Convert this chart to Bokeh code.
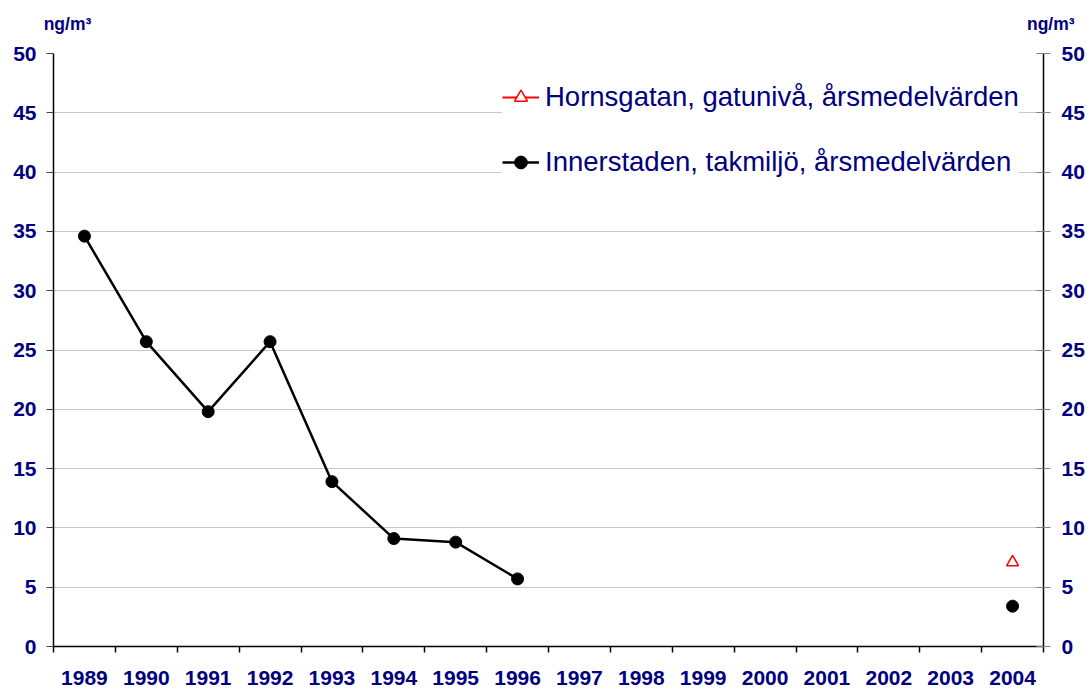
import math
from bokeh.plotting import figure
from bokeh.models import (Range1d, LinearAxis, FixedTicker, Legend, LegendItem,
                          ColumnDataSource)
from bokeh.embed import file_html
from bokeh.resources import INLINE

# ---------------- data ----------------
years = list(range(1989, 2005))
innerstaden = [34.6, 25.7, 19.8, 25.7, 13.9, 9.1, 8.8, 5.7,
               None, None, None, None, None, None, None, 3.4]
hornsgatan = [None, None, None, None, None, None, None, None,
              None, None, None, None, None, None, None, 7.1]
y_ticks = [0, 5, 10, 15, 20, 25, 30, 35, 40, 45, 50]
series_names = ["Hornsgatan, gatunivå, årsmedelvärden",
                "Innerstaden, takmiljö, årsmedelvärden"]
unit_label = "ng/m³"

# ---------------- helpers ----------------
nan = float("nan")


def clean(v):
    return [nan if x is None else x for x in v]


FONT = "Liberation Sans"
NAVY = "#000080"
TICK_FS = "21px"
FRAME_L, FRAME_R = 53, 1044   # frame edges in page pixels

src = ColumnDataSource(dict(year=years, inner=clean(innerstaden), horn=clean(hornsgatan)))

p = figure(width=1087, height=688, output_backend="svg", toolbar_location=None,
           x_range=Range1d(years[0] - 0.5, years[-1] + 0.5),
           y_range=Range1d(y_ticks[0], y_ticks[-1]),
           min_border_left=FRAME_L, min_border_right=1087 - FRAME_R,
           min_border_top=53, min_border_bottom=42)
p.outline_line_color = None
p.background_fill_color = "white"
p.border_fill_color = "white"
p.xgrid.visible = False
p.ygrid.ticker = FixedTicker(ticks=y_ticks)
p.ygrid.grid_line_color = "#c8c8c8"
p.ygrid.grid_line_width = 1

# bottom axis: labels at year centres, ticks at category boundaries (minor ticks)
xa = p.xaxis[0]
xa.ticker = FixedTicker(ticks=years, minor_ticks=[y - 0.5 for y in years] + [years[-1] + 0.5])
xa.major_tick_line_color = None
xa.major_tick_out = 0
xa.major_tick_in = 0
xa.minor_tick_out = 6
xa.minor_tick_in = 0
xa.minor_tick_line_color = "black"
xa.minor_tick_line_width = 1.5
xa.axis_line_color = "black"
xa.axis_line_width = 1.5
xa.major_label_standoff = 18
xa.major_label_text_font = FONT
xa.major_label_text_font_style = "bold"
xa.major_label_text_font_size = TICK_FS
xa.major_label_text_color = NAVY

# left axis
ya = p.yaxis[0]
ya.ticker = FixedTicker(ticks=y_ticks)
ya.axis_line_color = "black"
ya.axis_line_width = 1.5
ya.major_tick_out = 7
ya.major_tick_in = 0
ya.major_tick_line_color = "#404040"
ya.minor_tick_line_color = None
ya.major_label_standoff = 10
ya.major_label_text_font = FONT
ya.major_label_text_font_style = "bold"
ya.major_label_text_font_size = TICK_FS
ya.major_label_text_color = NAVY

# right axis
yr = LinearAxis(ticker=FixedTicker(ticks=y_ticks))
yr.axis_line_color = "black"
yr.axis_line_width = 1.5
yr.major_tick_out = 7
yr.major_tick_in = 7
yr.major_tick_line_color = "#808080"
yr.minor_tick_line_color = None
yr.major_label_standoff = 11
yr.major_label_text_font = FONT
yr.major_label_text_font_style = "bold"
yr.major_label_text_font_size = TICK_FS
yr.major_label_text_color = NAVY
p.add_layout(yr, "right")

# unit labels above both value axes: an unlined top axis on a pixel-like range
p.extra_x_ranges = {"px": Range1d(FRAME_L, FRAME_R)}
ua = LinearAxis(x_range_name="px", ticker=FixedTicker(ticks=[67, FRAME_R]),
                major_label_overrides={67: unit_label, FRAME_R: "\u00a0\u00a0\u00a0" + unit_label})
ua.axis_line_color = None
ua.major_tick_line_color = None
ua.minor_tick_line_color = None
ua.major_tick_in = 0
ua.major_tick_out = 0
ua.major_label_standoff = 20
ua.major_label_text_font = FONT
ua.major_label_text_font_style = "bold"
ua.major_label_text_font_size = "17.5px"
ua.major_label_text_color = NAVY
p.add_layout(ua, "above")

# series
r_line = p.line("year", "horn", source=src, line_color="red", line_width=2)
r_sc = p.scatter("year", "horn", source=src, marker="triangle", size=12,
                 line_color="red", fill_color="white", line_width=1.5)
b_line = p.line("year", "inner", source=src, line_color="black", line_width=2.5)
b_sc = p.scatter("year", "inner", source=src, marker="circle", size=12,
                 line_color="black", fill_color="black")

legend = Legend(items=[LegendItem(label=series_names[0], renderers=[r_line, r_sc]),
                       LegendItem(label=series_names[1], renderers=[b_line, b_sc])],
                location=(449, 468))
legend.background_fill_color = "white"
legend.background_fill_alpha = 1.0
legend.border_line_color = None
legend.padding = 18
legend.spacing = 33
legend.margin = 0
legend.glyph_width = 37
legend.glyph_height = 32
legend.label_height = 32
legend.label_standoff = 6
legend.label_text_font = FONT
legend.label_text_font_size = "27.5px"
legend.label_text_color = NAVY
p.add_layout(legend, "center")

open("out.html", "w").write(file_html(p, INLINE))
